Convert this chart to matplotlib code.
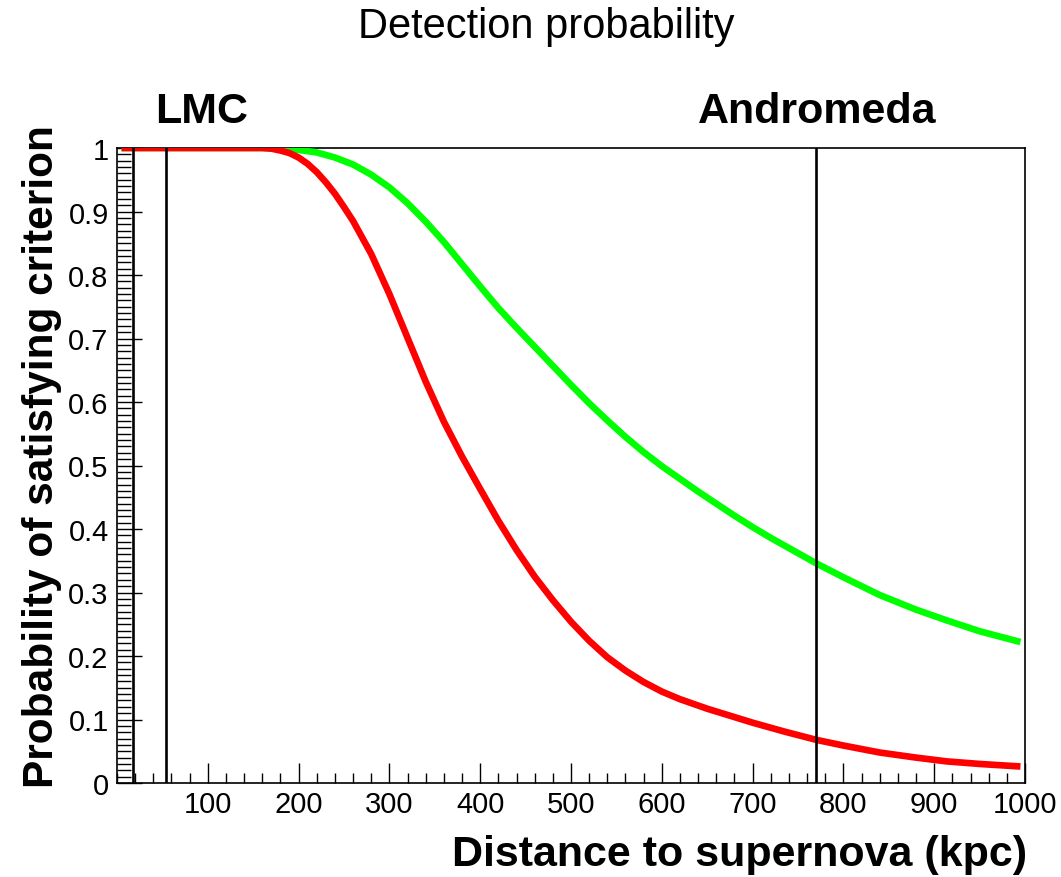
import matplotlib
matplotlib.use("Agg")
import matplotlib.pyplot as plt
from matplotlib.ticker import MultipleLocator, FixedLocator

plt.rcParams['font.family'] = ['Liberation Sans', 'DejaVu Sans']

# distance (kpc) and probability
red_kpc = [5, 100, 160, 170, 180, 190, 200, 210, 220, 230, 240, 250, 260, 280, 300,
           320, 340, 360, 380, 400, 420, 440, 460, 480, 500, 520, 540, 560, 580,
           600, 620, 650, 675, 700, 735, 770, 800, 840, 880, 914, 950, 995]
red_prob = [1.0, 1.0, 1.0, 0.999, 0.996, 0.992, 0.985, 0.975, 0.962, 0.946, 0.928,
            0.907, 0.885, 0.833, 0.770, 0.701, 0.632, 0.569, 0.514, 0.463, 0.413,
            0.367, 0.325, 0.288, 0.254, 0.224, 0.198, 0.177, 0.159, 0.144, 0.132,
            0.117, 0.106, 0.095, 0.081, 0.068, 0.059, 0.048, 0.040, 0.034, 0.030,
            0.026]

green_kpc = [5, 100, 160, 180, 200, 220, 240, 260, 280, 300, 320, 340, 360, 380, 400,
             420, 440, 460, 480, 500, 520, 540, 560, 580, 600, 620, 640, 660, 680,
             700, 720, 740, 770, 800, 840, 880, 914, 950, 995]
green_prob = [1.0, 1.0, 1.0, 0.999, 0.997, 0.993, 0.985, 0.974, 0.958, 0.938, 0.913,
              0.884, 0.852, 0.817, 0.782, 0.748, 0.717, 0.687, 0.657, 0.627, 0.598,
              0.571, 0.545, 0.521, 0.499, 0.479, 0.459, 0.440, 0.421, 0.403, 0.386,
              0.370, 0.346, 0.324, 0.296, 0.273, 0.256, 0.239, 0.222]

# vertical marker lines (kpc)
marker_kpc = [17.5, 53.5, 770]

W, H = 1061, 878
fig = plt.figure(figsize=(W / 100, H / 100), dpi=100)
ax = fig.add_axes([117 / W, 1 - 784 / H, (1025 - 117) / W, (784 - 149) / H])

ax.plot(green_kpc, green_prob, color='#00ff00', lw=4.8, solid_capstyle='butt', zorder=3)
ax.plot(red_kpc, red_prob, color='#ff0000', lw=4.8, solid_capstyle='butt', zorder=4)
for xv in marker_kpc:
    ax.axvline(xv, color='black', lw=1.9, zorder=5)

ax.set_xlim(0, 1000)
ax.set_ylim(0, 1)

ax.xaxis.set_major_locator(FixedLocator([100, 200, 300, 400, 500, 600, 700, 800, 900, 1000]))
ax.xaxis.set_minor_locator(MultipleLocator(20))
ax.set_yticks([0, 0.1, 0.2, 0.3, 0.4, 0.5, 0.6, 0.7, 0.8, 0.9, 1.0])
ax.set_yticklabels(['0', '0.1', '0.2', '0.3', '0.4', '0.5', '0.6', '0.7', '0.8', '0.9', '1'])
ax.yaxis.set_minor_locator(MultipleLocator(0.01))

ax.tick_params(axis='x', which='major', direction='in', length=14.5, width=1.0,
               labelsize=21, pad=5, top=False)
ax.tick_params(axis='x', which='minor', direction='in', length=7.2, width=1.0, top=False)
ax.tick_params(axis='y', which='major', direction='in', length=18, width=1.0,
               labelsize=21, pad=6, right=False)
ax.tick_params(axis='y', which='minor', direction='in', length=10, width=1.0, right=False)

for s in ax.spines.values():
    s.set_linewidth(1.2)

fig.text(546 / W, 1 - 27 / H, 'Detection probability', ha='center', va='center', fontsize=30)
fig.text(202 / W, 1 - 112 / H, 'LMC', ha='center', va='center', fontsize=31, fontweight='bold')
fig.text(817 / W, 1 - 112 / H, 'Andromeda', ha='center', va='center', fontsize=31,
         fontweight='bold')
fig.text(1027 / W, 1 - 866 / H, 'Distance to supernova (kpc)', ha='right', va='baseline',
         fontsize=31, fontweight='bold')
fig.text(42 / W, 1 - 125 / H, 'Probability of satisfying criterion', ha='center', va='top',
         rotation=90, fontsize=30.5, fontweight='bold')

fig.savefig('out.png', dpi=100)
